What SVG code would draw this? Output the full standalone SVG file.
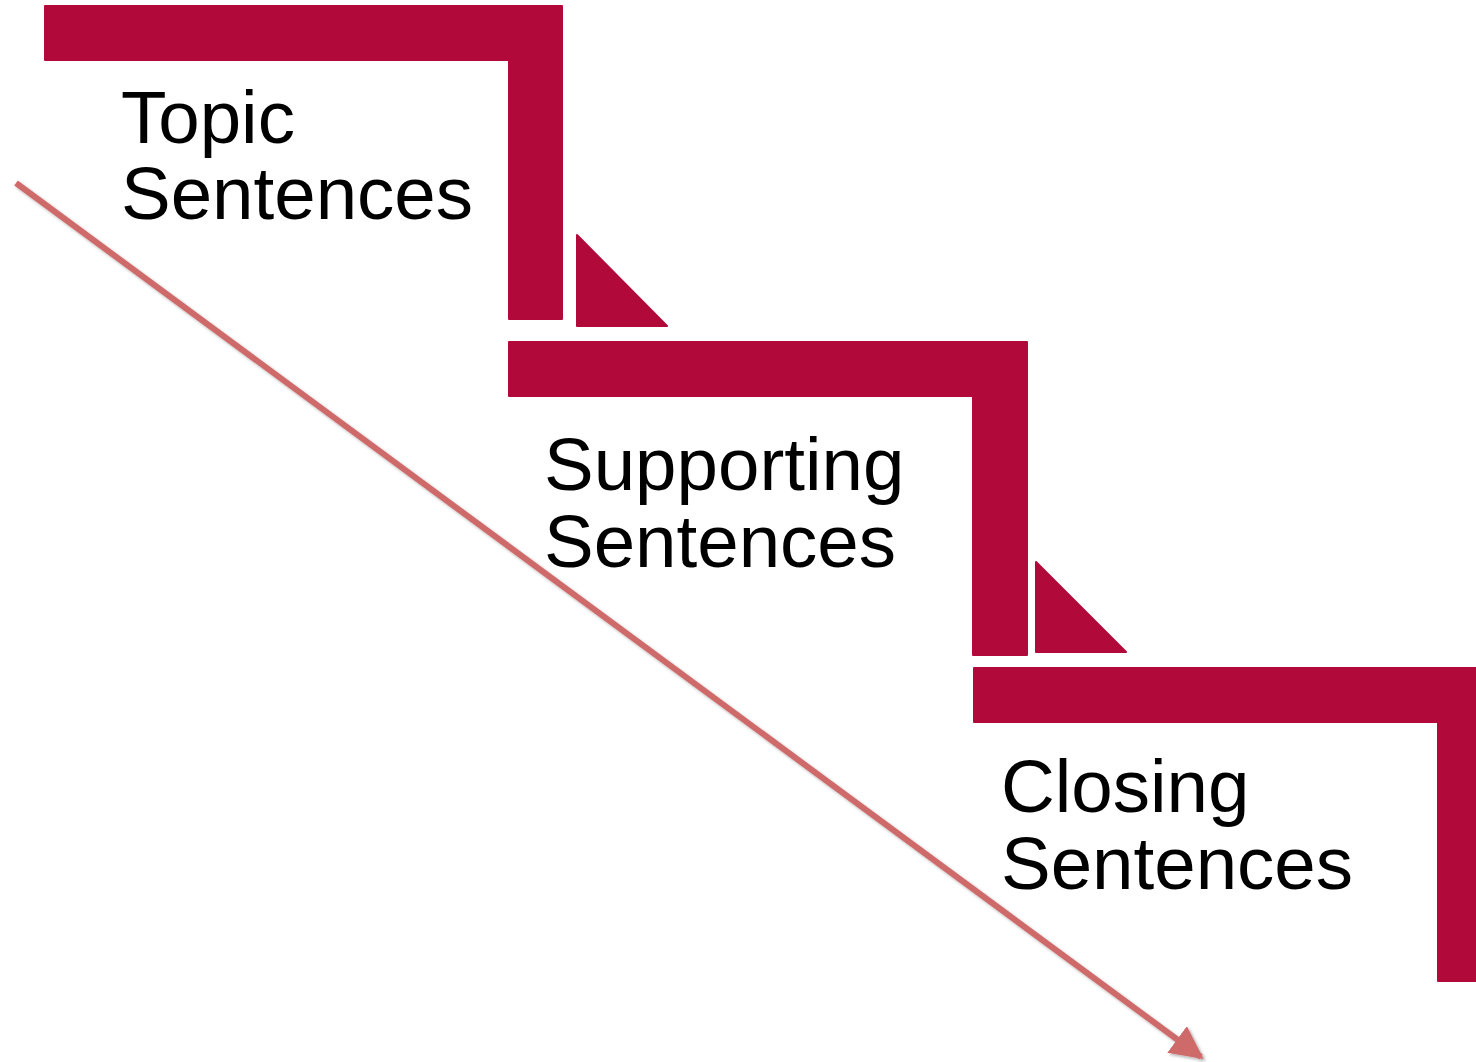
<svg xmlns="http://www.w3.org/2000/svg" width="1476" height="1062" viewBox="0 0 1476 1062">
<style>
.step{fill:#B10A3A;stroke:#B10A3A;stroke-width:2;stroke-linejoin:round}
.lbl{font-family:"Liberation Sans",Arial,sans-serif;font-size:74.5px;fill:#000}
</style>
<defs>
<marker id="ah" viewBox="0 0 10 10" refX="9" refY="5" markerWidth="5.5" markerHeight="5.5" markerUnits="strokeWidth" orient="auto">
<path d="M0,0 L10,5 L0,10 z" fill="#CF6B6B"/>
</marker>
<filter id="sh" x="-5%" y="-5%" width="110%" height="110%">
<feDropShadow dx="2" dy="2" stdDeviation="1.5" flood-color="#000" flood-opacity="0.3"/>
</filter>
</defs>
<rect width="1476" height="1062" fill="#fff"/>
<g id="connectors">
<line x1="16" y1="183" x2="1201" y2="1057" stroke="#CF6B6B" stroke-width="6" marker-end="url(#ah)" filter="url(#sh)"/>
</g>
<g id="step1">
<path class="step" d="M45,6 H562 V319 H509 V60 H45 Z"/>
<path class="step" d="M577,235 L667,326 H577 Z"/>
<text class="lbl" x="121" y="143">Topic</text>
<text class="lbl" x="121" y="219">Sentences</text>
</g>
<g id="step2">
<path class="step" d="M509,342 H1027 V655 H973 V396 H509 Z"/>
<path class="step" d="M1036,562 L1126,652 H1036 Z"/>
<text class="lbl" x="544" y="490">Supporting</text>
<text class="lbl" x="544" y="567">Sentences</text>
</g>
<g id="step3">
<path class="step" d="M974,668 H1476 V981 H1438 V722 H974 Z"/>
<text class="lbl" x="1001" y="812">Closing</text>
<text class="lbl" x="1001" y="889">Sentences</text>
</g>
</svg>
